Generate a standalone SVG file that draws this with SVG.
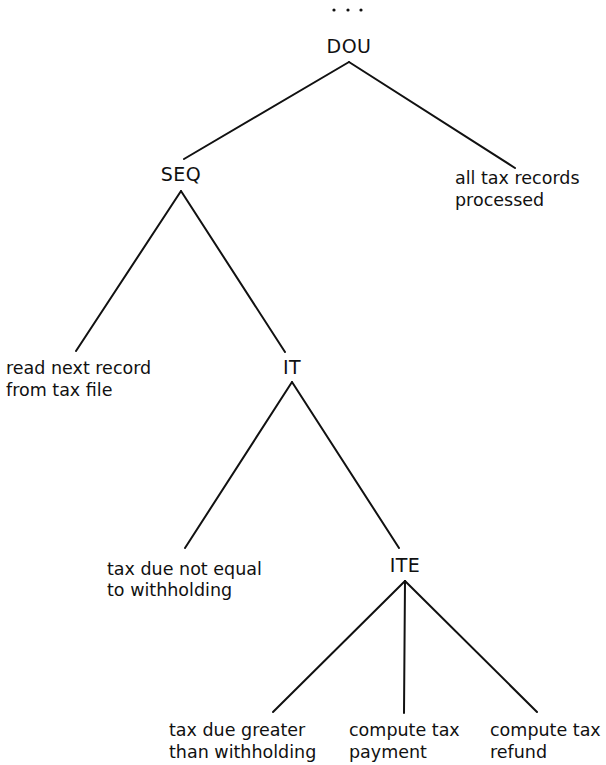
<svg xmlns="http://www.w3.org/2000/svg" width="606" height="765" viewBox="0 0 606 765">
  <style>
    .edge { stroke: #111; stroke-width: 2; fill: none; stroke-linecap: round; }
    .op { font-family: "DejaVu Sans", "Liberation Sans", sans-serif; font-size: 19px; fill: #111; text-anchor: middle; letter-spacing: 0.5px; }
    .leaf { font-family: "DejaVu Sans", "Liberation Sans", sans-serif; font-size: 17.5px; fill: #111; }
  </style>
  <rect width="606" height="765" fill="#ffffff"/>

  <!-- elided parent: three dots -->
  <g id="ellipsis" fill="#111">
    <circle cx="334" cy="10" r="1.6"/>
    <circle cx="348" cy="10" r="1.6"/>
    <circle cx="361" cy="10" r="1.6"/>
  </g>

  <!-- tree edges -->
  <g id="connectors">
    <line class="edge" x1="349" y1="62" x2="184" y2="159"/>
    <line class="edge" x1="349" y1="62" x2="515" y2="168"/>
    <line class="edge" x1="181" y1="191" x2="76" y2="351"/>
    <line class="edge" x1="181" y1="191" x2="285" y2="352"/>
    <line class="edge" x1="292" y1="382" x2="185" y2="548"/>
    <line class="edge" x1="292" y1="382" x2="399" y2="548"/>
    <line class="edge" x1="405" y1="581" x2="273" y2="712"/>
    <line class="edge" x1="405" y1="581" x2="404" y2="713"/>
    <line class="edge" x1="405" y1="581" x2="537" y2="712"/>
  </g>

  <!-- operator nodes -->
  <g id="dou"><text class="op" x="349" y="53">DOU</text></g>
  <g id="seq"><text class="op" x="181" y="181">SEQ</text></g>
  <g id="it"><text class="op" x="292" y="374">IT</text></g>
  <g id="ite"><text class="op" x="405" y="572">ITE</text></g>

  <!-- leaf nodes -->
  <g id="all-processed">
    <text class="leaf" x="455" y="184">all tax records</text>
    <text class="leaf" x="455" y="206">processed</text>
  </g>
  <g id="read-record">
    <text class="leaf" x="6" y="374">read next record</text>
    <text class="leaf" x="6" y="396">from tax file</text>
  </g>
  <g id="not-equal">
    <text class="leaf" x="107" y="575">tax due not equal</text>
    <text class="leaf" x="107" y="596">to withholding</text>
  </g>
  <g id="greater">
    <text class="leaf" x="169" y="736">tax due greater</text>
    <text class="leaf" x="169" y="758">than withholding</text>
  </g>
  <g id="payment">
    <text class="leaf" x="349" y="736">compute tax</text>
    <text class="leaf" x="349" y="758">payment</text>
  </g>
  <g id="refund">
    <text class="leaf" x="490" y="736">compute tax</text>
    <text class="leaf" x="490" y="758">refund</text>
  </g>
</svg>
